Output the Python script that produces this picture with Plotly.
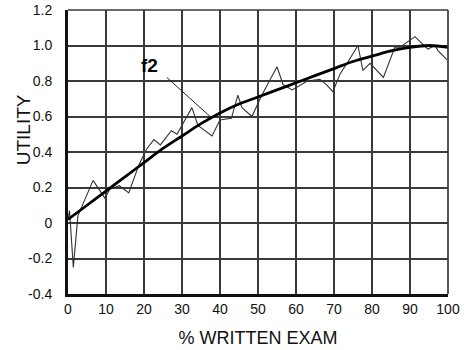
import plotly.graph_objects as go

# Observed utility values against % written exam
exam_pct = [0, 0.4, 1.4, 2.6, 6.6, 9.7, 11, 13.5, 16, 18.7, 20.8, 22.6, 24.3, 27.2,
            28.7, 32.6, 34.2, 37.9, 40, 43, 44.7, 45.8, 48.4, 51, 55, 56.6, 59, 63,
            66.3, 68, 69.7, 71.6, 74, 76.3, 77.6, 79.5, 83, 86, 87.4, 91.3, 94.7,
            96.6, 97.4, 99.7]
utility = [0.02, 0.07, -0.25, 0.04, 0.24, 0.14, 0.19, 0.21, 0.17, 0.33, 0.42, 0.47,
           0.44, 0.52, 0.5, 0.65, 0.55, 0.49, 0.58, 0.59, 0.72, 0.65, 0.6, 0.72, 0.88,
           0.78, 0.75, 0.8, 0.81, 0.78, 0.74, 0.84, 0.92, 1.0, 0.86, 0.9, 0.82, 0.99,
           0.99, 1.05, 0.98, 1.0, 0.97, 0.92]

# Fitted utility function f2
fit_pct = [0, 5, 10, 15, 20, 25, 30, 35, 40, 45, 50, 55, 60, 65, 70, 75, 80, 85, 90, 95, 100]
fit_utility = [0.02, 0.1, 0.18, 0.26, 0.34, 0.42, 0.49, 0.56, 0.62, 0.67, 0.71, 0.75,
               0.79, 0.83, 0.87, 0.91, 0.94, 0.97, 0.99, 1.0, 0.99]

x_ticks = [0, 10, 20, 30, 40, 50, 60, 70, 80, 90, 100]
y_ticks = [-0.4, -0.2, 0, 0.2, 0.4, 0.6, 0.8, 1.0, 1.2]
y_tick_text = ["-0.4", "-0.2", "0", "0.2", "0.4", "0.6", "0.8", "1.0", "1.2"]

# f2 label placement and its leader line (data units)
label_pos = (21.5, 0.89)
leader_start = (26.0, 0.82)
leader_end = (37.4, 0.6)

fig = go.Figure()
fig.add_trace(go.Scatter(x=exam_pct, y=utility, mode="lines",
                         line=dict(color="#333333", width=1.1), showlegend=False))
fig.add_trace(go.Scatter(x=fit_pct, y=fit_utility, mode="lines",
                         line=dict(color="#000000", width=2.8, shape="spline"),
                         showlegend=False))

font_family = "Arial, Liberation Sans, sans-serif"
grid_color = "#3a3a3a"

fig.update_layout(
    width=464, height=350,
    margin=dict(l=68, r=16, t=10, b=56, autoexpand=False),
    paper_bgcolor="white", plot_bgcolor="white",
    font=dict(family=font_family, color="#111111"),
    xaxis=dict(range=[0, 100], tickvals=x_ticks, showgrid=True, automargin=False,
               gridcolor=grid_color, gridwidth=1.7, zeroline=False,
               showline=True, linecolor="#111111", linewidth=3,
               ticks="", tickfont=dict(size=14, color="#111111"),
               title=dict(text="% WRITTEN EXAM", font=dict(size=18, color="#111111"),
                          standoff=16)),
    yaxis=dict(range=[-0.4, 1.2], tickvals=y_ticks, ticktext=y_tick_text,
               showgrid=True, gridcolor=grid_color, gridwidth=1.7, zeroline=False,
               showline=True, linecolor="#111111", linewidth=3, automargin=False,
               ticks="", ticklabelstandoff=10,
               tickfont=dict(size=14, color="#111111")),
)

# Top and right frame edges drawn at grid weight
fig.add_shape(type="line", xref="paper", yref="paper", x0=0, x1=1, y0=1, y1=1,
              line=dict(color=grid_color, width=1.7))
fig.add_shape(type="line", xref="paper", yref="paper", x0=1, x1=1, y0=0, y1=1,
              line=dict(color=grid_color, width=1.7))

# Vertical axis title
fig.add_annotation(text="UTILITY", xref="paper", yref="paper",
                   x=-0.118, y=0.577, xanchor="center", yanchor="middle",
                   showarrow=False, textangle=-90,
                   font=dict(size=19, color="#111111"))

# f2 label with leader line to the fitted curve
fig.add_shape(type="line", xref="x", yref="y",
              x0=leader_start[0], y0=leader_start[1],
              x1=leader_end[0], y1=leader_end[1],
              line=dict(color="#222222", width=1))
fig.add_annotation(text="<b>f2</b>", x=label_pos[0], y=label_pos[1],
                   showarrow=False, font=dict(size=19, color="#000000"))

fig.write_html("out.html")
